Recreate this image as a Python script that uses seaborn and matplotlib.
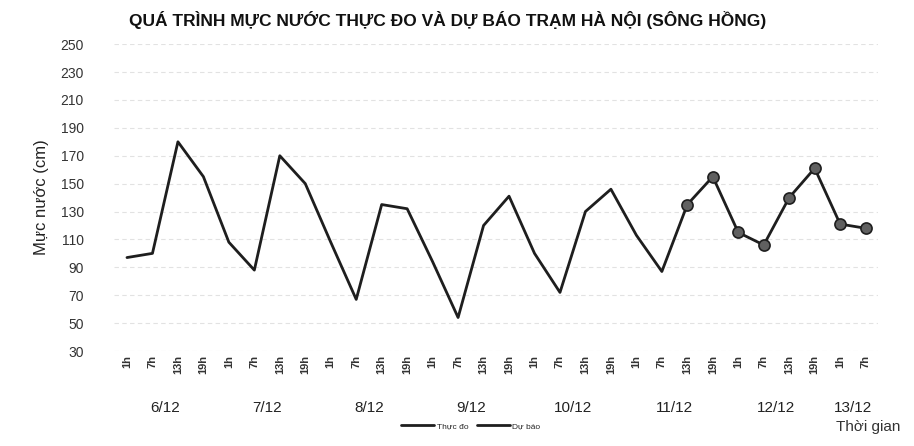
"""Water level chart: measured vs forecast, Hanoi station (Red River)."""

import matplotlib

matplotlib.use("Agg")
import matplotlib.pyplot as plt
import matplotlib.transforms as mtransforms
import numpy as np
import pandas as pd
import seaborn as sns

DAYS = ["6/12", "7/12", "8/12", "9/12", "10/12", "11/12", "12/12", "13/12"]
HOURS = ["1h", "7h", "13h", "19h"]

# one value per 6-hour step, 6/12 1h .. 13/12 7h
MEASURED = [97, 100, 180, 155, 108, 88, 170, 150, 108, 67, 135, 132,
            94, 54, 120, 141, 100, 72, 130, 146, 113, 87, 135]
FORECAST = [135, 155, 115, 106, 140, 161, 121, 118]

TITLE = "QUÁ TRÌNH MỰC NƯỚC THỰC ĐO VÀ DỰ BÁO TRẠM HÀ NỘI (SÔNG HỒNG)"
YLABEL = "Mực nước (cm)"
XLABEL = "Thời gian"


def main() -> None:
    sns.set_theme(style="white")
    plt.rcParams["font.family"] = ["Liberation Sans Narrow", "Liberation Sans", "DejaVu Sans"]

    tick_labels = [h for d in DAYS[:-1] for h in HOURS] + HOURS[:2]
    n = len(tick_labels)
    measured = pd.DataFrame({"step": np.arange(len(MEASURED)), "level": MEASURED})
    fc_start = len(MEASURED) - 1
    forecast = pd.DataFrame({"step": np.arange(fc_start, fc_start + len(FORECAST)),
                             "level": FORECAST})

    fig = plt.figure(figsize=(9.14, 4.46), dpi=100)
    ax = fig.add_axes([0.125, 0.213, 0.836, 0.688])

    sns.lineplot(data=measured, x="step", y="level", ax=ax, color="#1e1e1e",
                 lw=2.0, label="Thực đo")
    sns.lineplot(data=forecast, x="step", y="level", ax=ax, color="#1e1e1e",
                 lw=2.0, marker="o", markersize=8, markerfacecolor="#606060",
                 markeredgecolor="#1e1e1e", markeredgewidth=1.2)
    # legend entry for forecast is drawn as a plain line, as in the scan
    ax.plot([], [], color="#1e1e1e", lw=2.0, label="Dự báo")

    ax.set_xlim(-0.5, n - 0.5)
    ax.set_ylim(30, 250)
    ax.set_yticks(np.arange(30, 251, 20))
    ax.set_xticks(np.arange(n))
    ax.set_xticklabels(tick_labels, rotation=90, fontsize=8, fontweight="bold",
                       color="#333333")
    ax.tick_params(axis="y", labelsize=10, pad=22, colors="#333333", length=0)
    ax.tick_params(axis="x", pad=3, length=0)
    ax.yaxis.grid(True, color="#e2e2e2", lw=0.8, ls=(0, (4, 3)))
    for s in ax.spines.values():
        s.set_visible(False)
    ax.set_xlabel("")
    ax.set_ylabel(YLABEL, fontsize=12, color="#222222", labelpad=8)

    trans = mtransforms.blended_transform_factory(ax.transData, fig.transFigure)
    for i, day in enumerate(DAYS):
        idx = [k for k in range(i * 4, i * 4 + 4) if k < n]
        ax.text(np.mean(idx), 0.085, day, transform=trans, ha="center",
                va="center", fontsize=11, color="#222222")
    fig.text(0.985, 0.043, XLABEL, ha="right", va="center", fontsize=11,
             color="#333333")

    fig.text(0.49, 0.955, TITLE, ha="center", va="center", fontsize=12.5,
             fontweight="bold", color="#111111")

    ax.legend(loc="center", bbox_to_anchor=(0.515, 0.045),
              bbox_transform=fig.transFigure, ncol=2, frameon=False,
              fontsize=6, handlelength=4, columnspacing=1.0, handletextpad=0.3)

    fig.savefig("out.png", dpi=100)
    plt.close(fig)


if __name__ == "__main__":
    main()
